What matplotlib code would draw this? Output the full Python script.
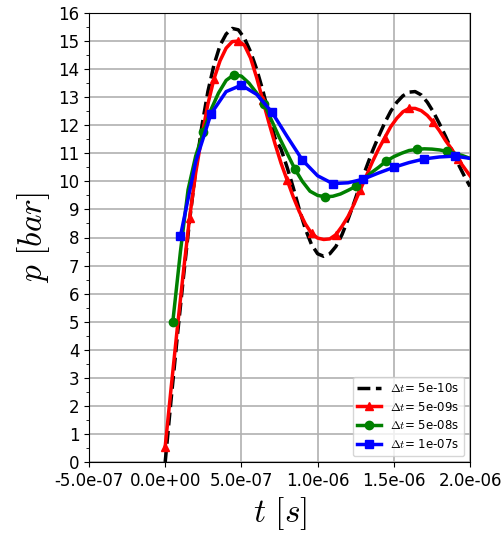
import numpy as np
import matplotlib
matplotlib.use('Agg')
import matplotlib.pyplot as plt
from matplotlib.ticker import MultipleLocator, FormatStrFormatter

plt.rcParams['mathtext.fontset'] = 'cm'

# time grids (s)
t_fine = np.arange(51) * 4e-8          # sampling used for the 5e-10 and 5e-09 curves
t_green = (np.arange(40) + 1) * 5e-8   # dt = 5e-08
t_blue = (np.arange(20) + 1) * 1e-7    # dt = 1e-07

# pressure (bar)
p_black = [0.0, 2.3, 4.5, 6.6, 8.6, 10.4, 11.95, 13.2, 14.15, 14.85,
           15.25, 15.45, 15.4, 15.1, 14.62, 14.0, 13.25, 12.4, 11.55, 11.15,
           10.5, 9.78, 9.0, 8.3, 7.75, 7.42, 7.33, 7.42, 7.68, 8.1,
           8.65, 9.25, 9.9, 10.5, 11.08, 11.6, 12.08, 12.5, 12.82, 13.05,
           13.18, 13.2, 13.08, 12.82, 12.47, 12.05, 11.6, 11.12, 10.65, 10.22,
           9.82]
p_red = [0.55, 2.7, 4.8, 6.8, 8.7, 10.3, 11.6, 12.75, 13.65, 14.3,
         14.75, 14.98, 15.0, 14.85, 14.4, 13.7, 12.9, 12.1, 11.35, 10.65,
         10.05, 9.45, 8.92, 8.48, 8.15, 7.98, 7.93, 7.95, 8.1, 8.4,
         8.75, 9.2, 9.7, 10.2, 10.7, 11.15, 11.55, 11.95, 12.25, 12.48,
         12.6, 12.6, 12.52, 12.35, 12.1, 11.8, 11.45, 11.15, 10.8, 10.5,
         10.2]
p_green = [5.0, 7.5, 9.7, 10.9, 11.75, 12.55, 13.15, 13.6, 13.8, 13.75,
           13.5, 13.15, 12.75, 12.15, 11.55, 11.0, 10.45, 10.0, 9.65, 9.5,
           9.45, 9.47, 9.55, 9.68, 9.82, 10.05, 10.3, 10.5, 10.72, 10.88,
           11.0, 11.1, 11.14, 11.16, 11.15, 11.12, 11.07, 11.0, 10.92, 10.82]
p_blue = [8.05, 10.7, 12.4, 13.2, 13.43, 13.1, 12.47, 11.6, 10.76, 10.2,
          9.92, 9.95, 10.08, 10.3, 10.5, 10.67, 10.8, 10.87, 10.9, 10.82]

labels = ['5e-10s', '5e-09s', '5e-08s', '1e-07s']

fig = plt.figure(figsize=(5.03, 5.36), dpi=100)
ax = fig.add_axes([89/503, 1-462/536, (470-89)/503, (462-13)/536])

ax.plot(t_fine, p_black, 'k--', lw=2.5, label=r'$\Delta t$= ' + labels[0])
ax.plot(t_fine, p_red, 'r-^', lw=2.5, ms=6, markevery=4, label=r'$\Delta t$= ' + labels[1])
ax.plot(t_green, p_green, '-o', color='green', lw=2.5, ms=6, markevery=4,
        label=r'$\Delta t$= ' + labels[2])
ax.plot(t_blue, p_blue, 'b-s', lw=2.5, ms=6, markevery=2, label=r'$\Delta t$= ' + labels[3])

ax.set_xlim(-5e-7, 2e-6)
ax.set_ylim(0, 16)
ax.xaxis.set_major_locator(MultipleLocator(5e-7))
ax.xaxis.set_major_formatter(FormatStrFormatter('%.1e'))
ax.yaxis.set_major_locator(MultipleLocator(1))
ax.yaxis.set_minor_locator(MultipleLocator(0.5))
ax.tick_params(labelsize=12)
ax.grid(True, color='#b0b0b0', lw=1.2)

ax.set_xlabel(r'$t\ [s]$', fontsize=24)
ax.set_ylabel(r'$p\ [bar]$', fontsize=24)
ax.legend(loc='lower right', fontsize=8.5)

fig.savefig('out.png', dpi=100)
